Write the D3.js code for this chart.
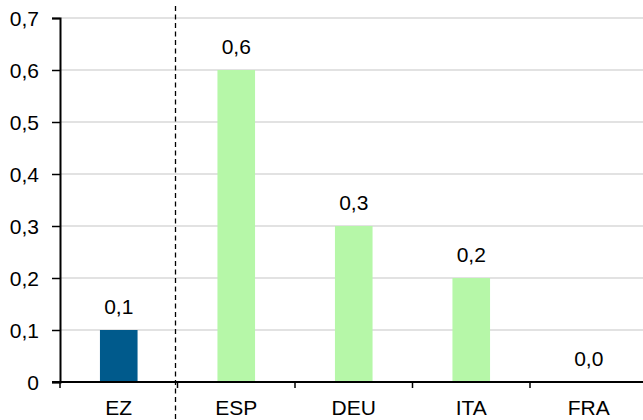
<!DOCTYPE html>
<html>
<head>
<meta charset="utf-8">
<script src="https://cdn.jsdelivr.net/npm/d3@7"></script>
<style>
  body { margin: 0; background: #fff; }
  text { font-family: "Liberation Sans", Arial, sans-serif; fill: #000; }
</style>
</head>
<body>
<div id="chart-area"></div>
<script>
const categories = ['EZ', 'ESP', 'DEU', 'ITA', 'FRA']
const values = [0.1, 0.6, 0.3, 0.2, 0.0]
const labels = ['0,1', '0,6', '0,3', '0,2', '0,0']
const yTicks = [0, 0.1, 0.2, 0.3, 0.4, 0.5, 0.6, 0.7]
const yTickLabels = ['0', '0,1', '0,2', '0,3', '0,4', '0,5', '0,6', '0,7']

const W = 643, H = 420
const margin = { left: 60, top: 18, bottom: 38 }
const plotRight = 647.5
const height = H - margin.top - margin.bottom
const fontSize = '21px'

let svg = d3.select('#chart-area')
  .append('svg')
  .attr('width', W)
  .attr('height', H)

let x = d3.scaleBand()
  .domain(categories)
  .range([margin.left, plotRight])
  .padding(0)

let y = d3.scaleLinear()
  .domain([0, 0.7])
  .range([margin.top + height, margin.top])

// gridlines
svg.append('g')
  .selectAll('line')
  .data(yTicks.filter(d => d > 0))
  .enter().append('line')
  .attr('x1', margin.left)
  .attr('x2', W)
  .attr('y1', d => y(d))
  .attr('y2', d => y(d))
  .attr('stroke', '#d9d9d9')
  .attr('stroke-width', 1.5)

// dashed separator between EZ and countries
let sepX = Math.floor(x('ESP')) - 1.5
svg.append('line')
  .attr('x1', sepX)
  .attr('x2', sepX)
  .attr('y1', 6)
  .attr('y2', H)
  .attr('stroke', '#000')
  .attr('stroke-width', 1.3)
  .attr('stroke-dasharray', '5,3.5')

// bars
let barW = x.bandwidth() * 0.32
svg.append('g')
  .selectAll('rect')
  .data(values)
  .enter().append('rect')
  .attr('x', (d, i) => x(categories[i]) + (x.bandwidth() - barW) / 2)
  .attr('y', d => y(d))
  .attr('width', barW)
  .attr('height', d => y(0) - y(d))
  .attr('fill', (d, i) => i === 0 ? '#005a8c' : '#b6f7a8')

// value labels
svg.append('g')
  .selectAll('text')
  .data(values)
  .enter().append('text')
  .attr('x', (d, i) => x(categories[i]) + x.bandwidth() / 2)
  .attr('y', d => y(d) - 16)
  .attr('text-anchor', 'middle')
  .attr('font-size', fontSize)
  .text((d, i) => labels[i])

// y axis
let yAxisCall = d3.axisLeft(y)
  .tickValues(yTicks)
  .tickSize(8)
  .tickPadding(13)
  .tickFormat((d, i) => yTickLabels[i])
let yAxisGroup = svg.append('g')
  .attr('transform', 'translate(' + margin.left + ',0)')
  .call(yAxisCall)
yAxisGroup.select('.domain').attr('stroke-width', 2)
yAxisGroup.selectAll('.tick line').attr('stroke-width', 1.5)
yAxisGroup.selectAll('text')
  .attr('font-size', fontSize)
  .attr('font-family', '"Liberation Sans", Arial, sans-serif')
  .attr('dy', '0.36em')

// x axis
let xAxisGroup = svg.append('g')
  .attr('transform', 'translate(0,' + y(0) + ')')
xAxisGroup.append('line')
  .attr('x1', margin.left - 8)
  .attr('x2', W)
  .attr('stroke', '#000')
  .attr('stroke-width', 2)
xAxisGroup.selectAll('.xtick')
  .data(categories)
  .enter().append('line')
  .attr('class', 'xtick')
  .attr('x1', d => x(d))
  .attr('x2', d => x(d))
  .attr('y1', 0)
  .attr('y2', 6)
  .attr('stroke', '#000')
  .attr('stroke-width', 1.5)
xAxisGroup.selectAll('.xlabel')
  .data(categories)
  .enter().append('text')
  .attr('class', 'xlabel')
  .attr('x', d => x(d) + x.bandwidth() / 2)
  .attr('y', 33)
  .attr('text-anchor', 'middle')
  .attr('font-size', fontSize)
  .text(d => d)
</script>
</body>
</html>
